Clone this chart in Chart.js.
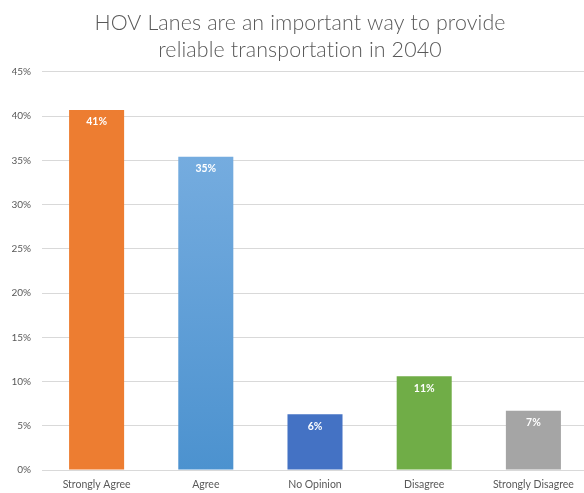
<!DOCTYPE html>
<html>
<head>
<meta charset="utf-8">
<script src="https://cdn.jsdelivr.net/npm/chart.js@4.4.1/dist/chart.umd.min.js"></script>
<style>
  html, body { margin: 0; padding: 0; background: #ffffff; overflow: hidden; }
  #wrap { width: 588px; height: 493px; }
</style>
</head>
<body>
<div id="wrap"><canvas id="c" width="588" height="493"></canvas></div>
<script>
// Survey responses: share of respondents per answer (percent)
const categories = ['Strongly Agree', 'Agree', 'No Opinion', 'Disagree', 'Strongly Disagree'];
const shares = [40.7, 35.4, 6.3, 10.6, 6.7];
const yTicks = [0, 5, 10, 15, 20, 25, 30, 35, 40, 45];

const solidColors = ['#ED7D31', null, '#4472C4', '#70AD47', '#A5A5A5'];
const textGray = '#595959';

// Agree bar uses a vertical light-to-deeper blue gradient
function barFill(ctx) {
  const i = ctx.dataIndex;
  if (solidColors[i]) return solidColors[i];
  const chart = ctx.chart;
  const area = chart.chartArea;
  if (!area) return '#5B9BD5';
  const yTop = chart.scales.y.getPixelForValue(shares[i]);
  const g = chart.ctx.createLinearGradient(0, yTop, 0, area.bottom);
  g.addColorStop(0, '#75ACDF');
  g.addColorStop(1, '#4C92CF');
  return g;
}

// White percentage labels just inside the top of each bar
const valueLabels = {
  id: 'valueLabels',
  afterDatasetsDraw(chart) {
    const ctx = chart.ctx;
    const meta = chart.getDatasetMeta(0);
    ctx.save();
    ctx.font = 'bold 10.5px Lato, "Open Sans", sans-serif';
    ctx.fillStyle = '#ffffff';
    ctx.textAlign = 'center';
    ctx.textBaseline = 'middle';
    meta.data.forEach((bar, i) => {
      ctx.fillText(Math.round(shares[i]) + '%', bar.x, bar.y + 12);
    });
    ctx.restore();
  }
};

// Slight tracking on the title (also keeps "ti" from forming a ligature)
const titleTracking = {
  id: 'titleTracking',
  afterInit(chart) {
    const block = chart.titleBlock;
    if (!block) return;
    const drawTitle = block.draw.bind(block);
    block.draw = function () {
      const ctx = chart.ctx;
      ctx.save();
      ctx.letterSpacing = '0.12px';
      drawTitle();
      ctx.restore();
    };
  }
};

new Chart(document.getElementById('c'), {
  type: 'bar',
  data: {
    labels: categories,
    datasets: [{
      data: shares,
      backgroundColor: barFill,
      borderWidth: 0,
      barPercentage: 0.504,
      categoryPercentage: 1.0
    }]
  },
  options: {
    responsive: false,
    animation: false,
    layout: { padding: { left: 12, right: 0, top: 0, bottom: 0 } },
    plugins: {
      legend: { display: false },
      tooltip: { enabled: false },
      title: {
        display: true,
        text: ['HOV Lanes are an important way to provide', 'reliable transportation in 2040'],
        color: textGray,
        font: { family: 'Lato, "Open Sans", sans-serif', size: 21.4, weight: 300, lineHeight: 1.26 },
        padding: { top: 10, bottom: 8 }
      }
    },
    scales: {
      x: {
        grid: { display: false, drawTicks: false },
        border: { display: false },
        ticks: {
          color: textGray,
          font: { family: 'Lato, "Open Sans", sans-serif', size: 10.5 },
          padding: 8,
          maxRotation: 0,
          autoSkip: false
        },
        afterFit(scale) { scale.height = 23; }
      },
      y: {
        min: 0,
        max: 45,
        afterBuildTicks(scale) { scale.ticks = yTicks.map(v => ({ value: v })); },
        grid: { color: '#D9D9D9', lineWidth: 1, drawTicks: false },
        border: { display: false },
        ticks: {
          color: textGray,
          font: { family: 'Lato, "Open Sans", sans-serif', size: 10 },
          padding: 11,
          callback: v => v + '%'
        },
        afterFit(scale) { scale.width = 30; }
      }
    }
  },
  plugins: [valueLabels, titleTracking]
});
</script>
</body>
</html>
